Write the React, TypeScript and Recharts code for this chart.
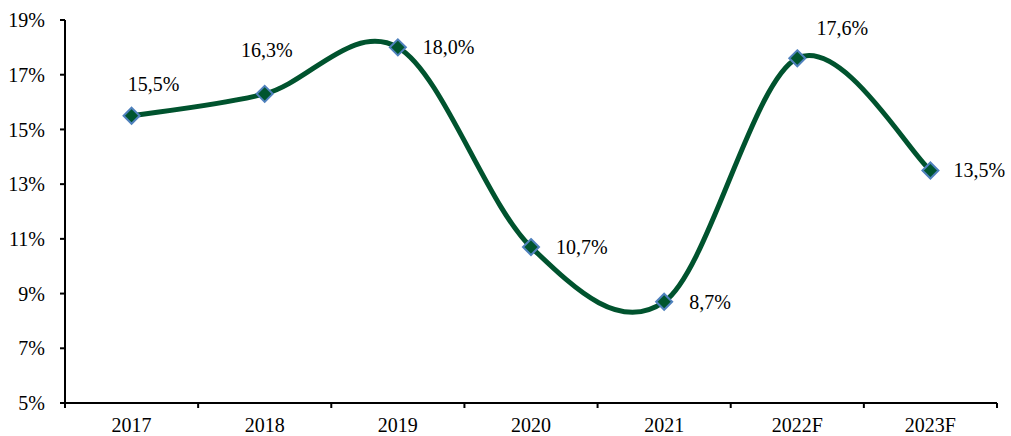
import React from "react";
import { LineChart, Line, XAxis, YAxis, LabelList } from "recharts";

const years = ["2017", "2018", "2019", "2020", "2021", "2022F", "2023F"];
const growth = [15.5, 16.3, 18.0, 10.7, 8.7, 17.6, 13.5];
const yTicks = [5, 7, 9, 11, 13, 15, 17, 19];

// where each value label sits relative to its point (manual placement, like the source)
const labelOffsets: [number, number, "middle" | "start"][] = [
  [22, -32, "middle"],
  [2, -44, "middle"],
  [25, 0, "start"],
  [25, 0, "start"],
  [25, 0, "start"],
  [45, -30, "middle"],
  [23, 0, "start"],
];

const W = 1011;
const H = 436;
const M = { top: 20, right: 14, bottom: 0, left: 0 };
const X_AXIS_H = 33;
const Y_AXIS_W = 65;
const FONT = "'Liberation Serif', 'Times New Roman', serif";
const LINE = "#00532E";

const data = years.map((year, i) => ({ year, value: growth[i] }));

// Excel-like smoothed line (Catmull-Rom through the points)
function smoothCurve(context: any) {
  let pts: [number, number][] = [];
  return {
    areaStart() {},
    areaEnd() {},
    lineStart() {
      pts = [];
    },
    point(x: number, y: number) {
      pts.push([+x, +y]);
    },
    lineEnd() {
      const n = pts.length;
      if (!n) return;
      context.moveTo(pts[0][0], pts[0][1]);
      for (let i = 0; i < n - 1; i++) {
        const p0 = pts[Math.max(i - 1, 0)];
        const p1 = pts[i];
        const p2 = pts[i + 1];
        const p3 = pts[Math.min(i + 2, n - 1)];
        context.bezierCurveTo(
          p1[0] + (p2[0] - p0[0]) / 6,
          p1[1] + (p2[1] - p0[1]) / 6,
          p2[0] - (p3[0] - p1[0]) / 6,
          p2[1] - (p3[1] - p1[1]) / 6,
          p2[0],
          p2[1]
        );
      }
    },
  };
}

const plotW = W - M.left - M.right - Y_AXIS_W;
const band = plotW / years.length;
const axisY = H - M.bottom - X_AXIS_H;

function XTick(props: any) {
  const { x, payload, index } = props;
  const left = x - band / 2;
  const last = index === years.length - 1;
  return (
    <g>
      <line x1={left} y1={axisY} x2={left} y2={axisY + 5} stroke="#000" strokeWidth={2} />
      {last && (
        <line x1={x + band / 2} y1={axisY} x2={x + band / 2} y2={axisY + 5} stroke="#000" strokeWidth={2} />
      )}
      <text x={x} y={axisY + 29} textAnchor="middle" fill="#000" fontSize={20} fontFamily={FONT}>
        {payload.value}
      </text>
    </g>
  );
}

function Diamond(props: any) {
  const { cx, cy, index } = props;
  const r = 8;
  return (
    <path
      key={`d-${index}`}
      d={`M${cx},${cy - r}L${cx + r},${cy}L${cx},${cy + r}L${cx - r},${cy}Z`}
      fill="#00552F"
      stroke="#4F81BD"
      strokeWidth={2}
    />
  );
}

function ValueLabel(props: any) {
  const { x, y, value, index } = props;
  const [dx, dy, anchor] = labelOffsets[index];
  return (
    <text
      x={x + dx}
      y={y + dy}
      dy="0.35em"
      textAnchor={anchor}
      fill="#000"
      fontSize={20}
      fontFamily={FONT}
    >
      {value.toFixed(1).replace(".", ",")}%
    </text>
  );
}

export default function App() {
  return (
    <div style={{ position: "absolute", left: 0, top: 0, background: "#fff" }}>
      <LineChart width={W} height={H} data={data} margin={M}>
        <XAxis
          dataKey="year"
          height={X_AXIS_H}
          padding={{ left: band / 2, right: band / 2 }}
          axisLine={{ stroke: "#000", strokeWidth: 2 }}
          tickLine={false}
          tick={<XTick />}
          interval={0}
        />
        <YAxis
          width={Y_AXIS_W}
          domain={[5, 19]}
          ticks={yTicks}
          interval={0}
          axisLine={{ stroke: "#000", strokeWidth: 2 }}
          tickLine={{ stroke: "#000", strokeWidth: 2 }}
          tickSize={5}
          tickMargin={15}
          tickFormatter={(v) => `${v}%`}
          tick={{ fill: "#000", fontSize: 20, fontFamily: FONT }}
        />
        <Line
          dataKey="value"
          type={smoothCurve as any}
          stroke={LINE}
          strokeWidth={5}
          dot={<Diamond />}
          activeDot={false}
          isAnimationActive={false}
        >
          <LabelList dataKey="value" content={<ValueLabel />} />
        </Line>
      </LineChart>
    </div>
  );
}
